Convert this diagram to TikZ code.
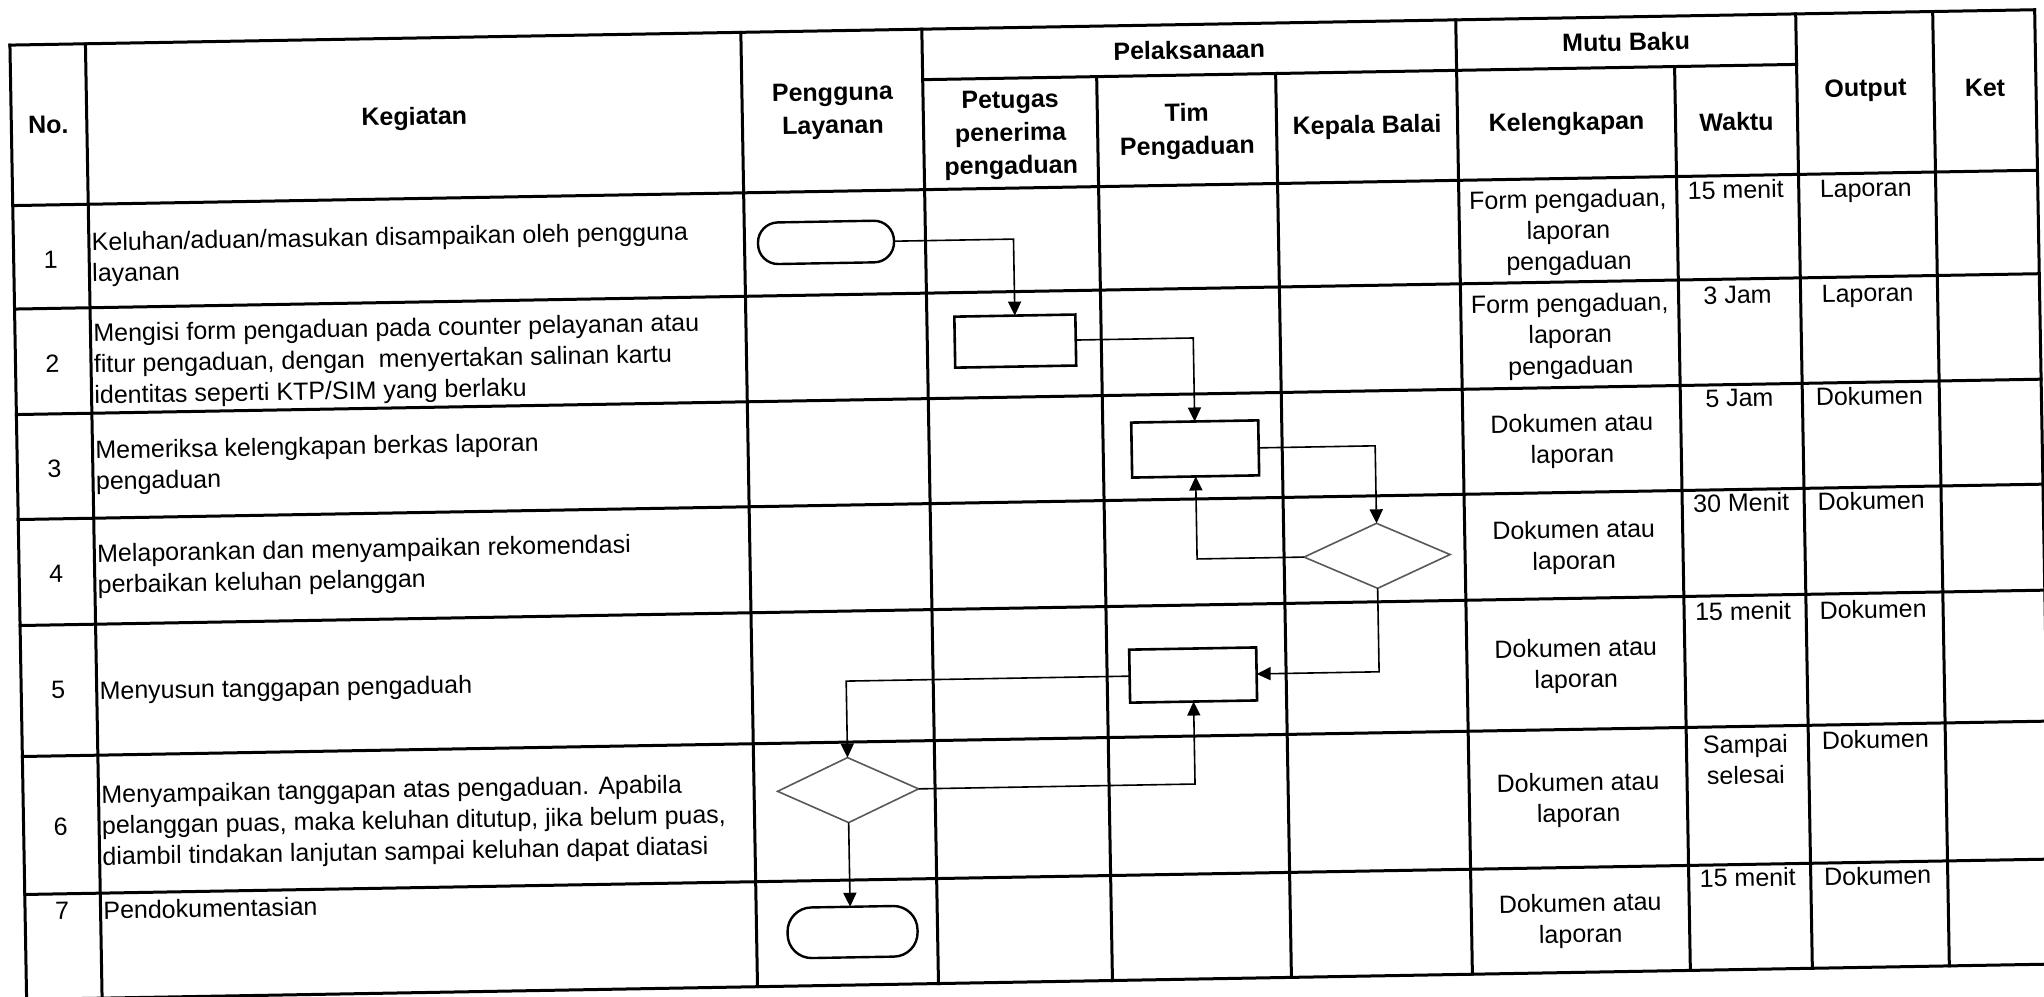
\documentclass[tikz,border=0pt]{standalone}
\usepackage{fontspec}
\setmainfont{Liberation Sans}
\usetikzlibrary{arrows.meta,shapes.geometric}
\begin{document}
\begin{tikzpicture}[x=0.5pt,y=-0.5pt,
  grid/.style={line width=1.5pt, black, line cap=rect},
  hdr/.style={font=\fontsize{12.5}{16.5}\selectfont\bfseries, align=center, inner sep=0pt},
  txt/.style={font=\fontsize{12.5}{15.5}\selectfont, inner sep=0pt},
  ctxt/.style={txt, align=center},
  ltxt/.style={txt, align=left, anchor=west},
  btxt/.style={txt, anchor=base},
  proc/.style={draw, line width=1.3pt, rectangle, inner sep=0pt, outer sep=0pt},
  term/.style={draw, line width=1.2pt, rectangle, rounded corners=10pt, inner sep=0pt, outer sep=0pt},
  dec/.style={draw=black!65, line width=0.8pt, diamond, inner sep=0pt, outer sep=0pt},
  conn/.style={line width=0.8pt, -{Triangle[length=7pt,width=6.5pt]}},
]
\useasboundingbox (0,0) rectangle (2044,996);
\fill[white] (0,0) rectangle (2044,996);
\begin{scope}[transform canvas={rotate around={1:(1022,498)}}]
% table grid
\draw[grid] (18,27.5) -- (2043,27.5);
\draw[grid] (930,78) -- (1804,78);
\foreach \y in {188,291.5,397,502,608,739,877,982} \draw[grid] (18,\y) -- (2043,\y);
\foreach \x in {18,93.5,749,930,1464,1804,1941,2043} \draw[grid] (\x,27.5) -- (\x,982);
\foreach \x in {1104,1283,1682} \draw[grid] (\x,78) -- (\x,982);

% header
\node[hdr] (hno) at (55,108) {No.};
\node[hdr] (hkeg) at (421,108) {Kegiatan};
\node[hdr] (hpeng) at (839.5,108) {Pengguna\\Layanan};
\node[hdr] (hpel) at (1197,53) {Pelaksanaan};
\node[hdr] (hpet) at (1017,135) {Petugas\\penerima\\pengaduan};
\node[hdr] (htim) at (1193.5,134.5) {Tim\\Pengaduan};
\node[hdr] (hkep) at (1373.5,133) {Kepala Balai};
\node[hdr] (hmutu) at (1634,52.5) {Mutu Baku};
\node[hdr] (hkel) at (1573,133.6) {Kelengkapan};
\node[hdr] (hwak) at (1743,134) {Waktu};
\node[hdr] (hout) at (1872.5,105) {Output};
\node[hdr] (hket) at (1992,105) {Ket};

% numbers
\node[txt] (n1) at (55,243) {1};
\node[txt] (n2) at (55,347) {2};
\node[txt] (n3) at (55,451.5) {3};
\node[txt] (n4) at (55,557) {4};
\node[txt] (n5) at (55,673) {5};
\node[txt] (n6) at (55,810) {6};
\node[txt] (n7) at (55,893.5) {7};

% kegiatan
\node[ltxt] (k1) at (96,243.5) {Keluhan/aduan/masukan disampaikan oleh pengguna\\layanan};
\node[ltxt] (k2) at (96,350) {Mengisi form pengaduan pada counter pelayanan atau\\fitur pengaduan, dengan\ \ menyertakan salinan kartu\\identitas seperti KTP/SIM yang berlaku};
\node[ltxt] (k3) at (96,451.6) {Memeriksa kelengkapan berkas laporan\\pengaduan};
\node[ltxt] (k4) at (96,555) {Melaporankan dan menyampaikan rekomendasi\\perbaikan keluhan pelanggan};
\node[ltxt] (k5) at (96,677) {Menyusun tanggapan pengaduah};
\node[ltxt] (k6) at (96,811.6) {Menyampaikan tanggapan atas pengaduan. Apabila\\pelanggan puas, maka keluhan ditutup, jika belum puas,\\diambil tindakan lanjutan sampai keluhan dapat diatasi};
\node[ltxt] (k7) at (96,894) {Pendokumentasian};

% kelengkapan
\node[ctxt] (l1) at (1573,242) {Form pengaduan,\\laporan\\pengaduan};
\node[ctxt] (l2) at (1573,346.3) {Form pengaduan,\\laporan\\pengaduan};
\node[ctxt] (l3) at (1573,450.5) {Dokumen atau\\laporan};
\node[ctxt] (l4) at (1573,557) {Dokumen atau\\laporan};
\node[ctxt] (l5) at (1573,675.5) {Dokumen atau\\laporan};
\node[ctxt] (l6) at (1573,809.7) {Dokumen atau\\laporan};
\node[ctxt] (l7) at (1573,930.5) {Dokumen atau\\laporan};

% waktu
\node[btxt] (w1) at (1741,211) {15 menit};
\node[btxt] (w2) at (1741,316) {3 Jam};
\node[btxt] (w3) at (1741,419) {5 Jam};
\node[btxt] (w4) at (1741,524) {30 Menit};
\node[btxt] (w5) at (1741,632.5) {15 menit};
\node[ctxt] (w6) at (1741,772) {Sampai\\selesai};
\node[btxt] (w7) at (1741,899) {15 menit};

% output
\node[btxt] (o1) at (1871,211.5) {Laporan};
\node[btxt] (o2) at (1871,316.5) {Laporan};
\node[btxt] (o3) at (1871,419.5) {Dokumen};
\node[btxt] (o4) at (1871,524.5) {Dokumen};
\node[btxt] (o5) at (1871,633) {Dokumen};
\node[btxt] (o6) at (1871,763) {Dokumen};
\node[btxt] (o7) at (1871,899.5) {Dokumen};

% flow shapes
\node[term, minimum width=68pt, minimum height=20.8pt] (t1) at (830.5,239) {};
\node[proc, minimum width=60.5pt, minimum height=25.5pt] (r2) at (1018,341) {};
\node[proc, minimum width=63.5pt, minimum height=27.5pt] (r3) at (1196,452) {};
\node[dec, minimum width=73pt, minimum height=32.5pt] (d4) at (1376,562) {};
\node[proc, minimum width=63.5pt, minimum height=26.5pt] (r5) at (1190,678) {};
\node[dec, minimum width=70.5pt, minimum height=32.5pt] (d6) at (843,787) {};
\node[term, minimum width=65pt, minimum height=25.3pt, rounded corners=12pt] (t7) at (845,929) {};

% connectors
\draw[conn] (t1.east) -| (r2.north);
\draw[conn] (r2.east) -| (r3.north);
\draw[conn] (r3.east) -| (d4.north);
\draw[conn] (d4.west) -| (r3.south);
\draw[conn] (d4.south) |- (r5.east);
\draw[conn] (r5.west) -| (d6.north);
\draw[conn] (d6.east) -| (r5.south);
\draw[conn] (d6.south) -- (d6.south |- t7.north);
\end{scope}
\end{tikzpicture}
\end{document}
